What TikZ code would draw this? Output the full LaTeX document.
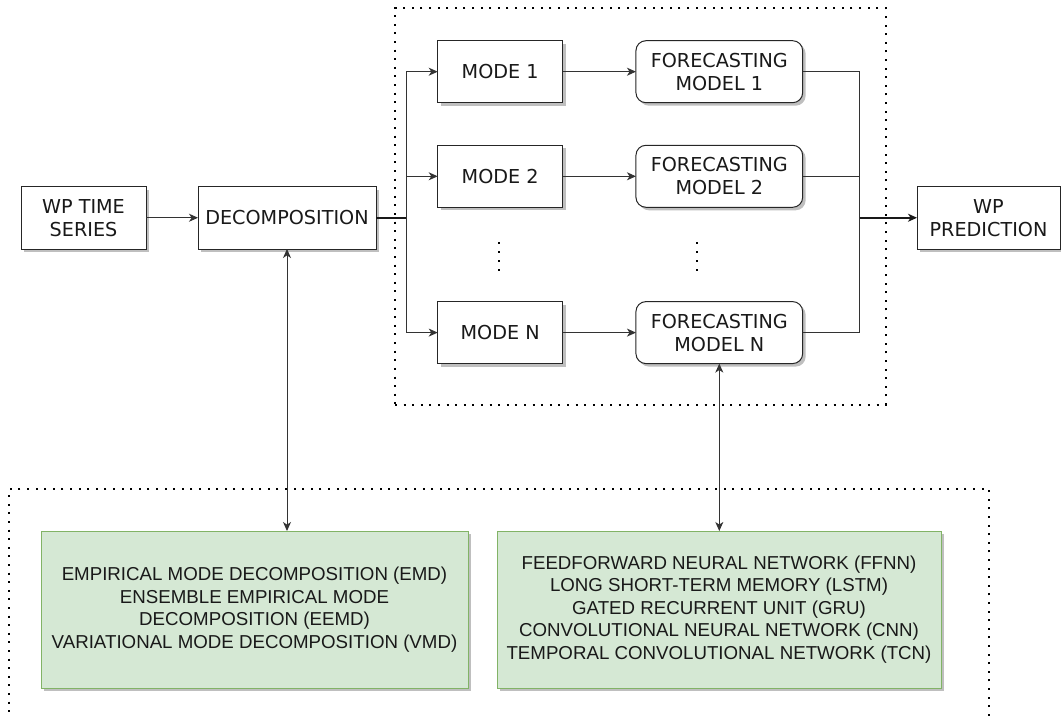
\documentclass[tikz,border=0pt]{standalone}
\usepackage{fontspec}
\setmainfont{DejaVu Sans}
\newfontfamily\arialf{Liberation Sans}
\usetikzlibrary{arrows.meta,shadows}
\definecolor{gfill}{HTML}{D5E8D4}
\definecolor{gdraw}{HTML}{82B366}
\begin{document}
\begin{tikzpicture}[x=1pt,y=-1pt,
  every node/.style={inner sep=0pt, outer sep=0pt},
  >={Stealth[length=9pt,width=8pt,inset=2.6pt]},
  shad/.style={drop shadow={shadow xshift=3pt, shadow yshift=-3pt, fill=black!25, opacity=1}},
  box/.style={shad, draw=black!85, line width=1pt, fill=white, align=center,
    font=\fontsize{19.2}{23}\selectfont, text=black!90},
  rbox/.style={box, rounded corners=10pt},
  gbox/.style={shad, draw=gdraw, line width=1pt, fill=gfill, align=center,
    font=\arialf\fontsize{18.7}{22.6}\selectfont, text=black!90},
  cont/.style={draw=black, line width=2pt, dash pattern=on 2pt off 6.6pt},
  dotline/.style={draw=black, line width=2pt, dash pattern=on 2pt off 7pt},
  conn/.style={draw=black!80, line width=1pt},
  thickconn/.style={draw=black!90, line width=1.9pt}
]
\useasboundingbox (0,0) rectangle (1061,717);
\clip (0,0) rectangle (1061,717);

% containers
\node[cont, minimum width=490.7pt, minimum height=396.2pt] (top) at (640.35,206.4) {};
\node[cont, minimum width=979.7pt, minimum height=236pt] (bot) at (499.15,607) {};

% main boxes
\node[box, minimum width=125pt, minimum height=62.5pt] (ts) at (83.5,217.75) {WP TIME\\SERIES};
\node[box, minimum width=178pt, minimum height=62.5pt] (dec) at (287,217.75) {DECOMPOSITION};

\node[box, minimum width=125pt, minimum height=62pt] (m1) at (500.2,71.7) {MODE 1};
\node[box, minimum width=125pt, minimum height=62pt] (m2) at (500.2,176.3) {MODE 2};
\node[box, minimum width=125pt, minimum height=62pt] (mN) at (500.2,332.6) {MODE N};

\node[rbox, minimum width=166.7pt, minimum height=62pt] (f1) at (719.3,71.7) {FORECASTING\\MODEL 1};
\node[rbox, minimum width=166.7pt, minimum height=62pt] (f2) at (719.3,176.3) {FORECASTING\\MODEL 2};
\node[rbox, minimum width=166.7pt, minimum height=62pt] (fN) at (719.3,332.6) {FORECASTING\\MODEL N};

\node[box, minimum width=143pt, minimum height=62.5pt] (pred) at (988.5,217.75) {WP\\PREDICTION};

% green boxes
\node[gbox, minimum width=427pt, minimum height=157pt] (gl) at (254.5,609.5)
  {EMPIRICAL MODE DECOMPOSITION (EMD)\\ENSEMBLE EMPIRICAL MODE\\DECOMPOSITION (EEMD)\\VARIATIONAL MODE DECOMPOSITION (VMD)};
\node[gbox, minimum width=444pt, minimum height=157pt] (gr) at (719,609.5)
  {FEEDFORWARD NEURAL NETWORK (FFNN)\\LONG SHORT-TERM MEMORY (LSTM)\\GATED RECURRENT UNIT (GRU)\\CONVOLUTIONAL NEURAL NETWORK (CNN)\\TEMPORAL CONVOLUTIONAL NETWORK (TCN)};

% ellipsis dots
\draw[dotline] (499.3,242) -- (499.3,271);
\draw[dotline] (697.3,242) -- (697.3,271);

% connectors
\coordinate (br) at (406.7,217.75);
\coordinate (col) at (859.5,217.75);

\draw[conn,->] (ts) -- (dec);
\draw[thickconn] (dec.east) -- (br);
\draw[conn,->] (br) |- (m1.west);
\draw[conn,->] (br) |- (m2.west);
\draw[conn,->] (br) |- (mN.west);

\draw[conn,->] (m1) -- (f1);
\draw[conn,->] (m2) -- (f2);
\draw[conn,->] (mN) -- (fN);

\draw[conn] (f1.east) -| (col);
\draw[conn] (f2.east) -| (col);
\draw[conn] (fN.east) -| (col);
\draw[thickconn,->] (col) -- (pred.west);

\draw[conn,<->] (dec.south) -- (dec.south |- gl.north);
\draw[conn,<->] (fN.south) -- (fN.south |- gr.north);
\end{tikzpicture}
\end{document}
